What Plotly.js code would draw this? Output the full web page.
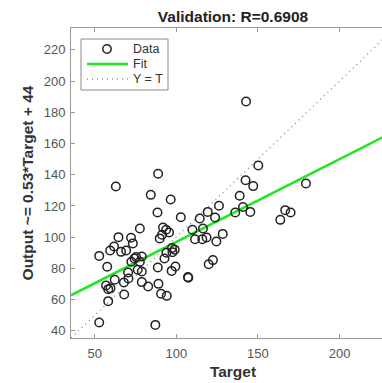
<!DOCTYPE html>
<html><head><meta charset="utf-8">
<script src="https://cdn.plot.ly/plotly-3.0.1.min.js"></script>
<style>html,body{margin:0;padding:0;overflow:hidden;background:#fff;width:382px;height:383px}#chart{width:400px;height:383px}</style>
</head><body><div id="chart"></div>
<script>
// Data
const targetVals = [52.7,87.1,52.7,57.6,56.9,58.2,58.2,59.4,61.8,62.9,62.2,64.5,66.1,68.0,67.8,69.2,70.6,70.4,72.2,73.3,72.4,74.3,76.3,77.6,77.6,78.8,78.8,78.8,82.7,84.3,88.8,88.4,88.6,89.0,90.6,94.1,89.8,91.8,91.2,93.7,95.5,92.7,93.9,96.5,97.3,97.6,97.1,99.4,102.7,107.1,109.8,111.4,114.3,115.9,116.3,118.5,119.2,119.8,122.4,123.7,124.5,126.1,128.4,136.1,138.8,140.8,142.4,142.7,145.3,147.1,150.2,163.7,166.7,170.0,179.4,59.6,75.3,107.3,99.0];
const outputVals = [45.3,43.8,88.0,81.0,69.0,66.7,59.0,91.5,94.0,132.5,72.7,100.0,90.6,63.3,71.0,91.5,73.5,77.4,99.6,96.0,84.2,86.3,79.1,84.2,105.6,87.6,78.0,71.2,68.4,127.1,140.6,115.8,80.6,70.1,63.7,62.4,99.2,106.2,101.5,104.7,103.0,86.3,90.0,124.1,93.0,90.4,78.4,81.2,112.8,74.4,104.7,98.7,112.0,98.7,105.6,99.8,116.2,82.7,85.3,112.6,97.2,120.1,102.1,115.8,126.5,119.3,136.5,186.9,116.2,132.7,145.9,111.1,117.3,115.8,134.4,67.2,87.3,74.0,92.0];
const fitX = [35.4, 234];
const fitY = [62.8, 168.0];
const identX = [35.4, 234];
const identY = [35.4, 234];
const xTicks = [50,100,150,200];
const yTicks = [40,60,80,100,120,140,160,180,200,220];
const axisRange = [35.4, 234];
const legendLabels = ['Data', 'Fit', 'Y = T'];

const FONT = 'Liberation Sans, Arial, sans-serif';
const fitColor = '#22e622';
const identColor = '#8f8f8f';
const markColor = '#222';

const traces = [
  {x: identX, y: identY, mode: 'lines', name: legendLabels[2],
   line: {color: identColor, width: 1.4, dash: '1px,4px'}},
  {x: fitX, y: fitY, mode: 'lines', name: legendLabels[1],
   line: {color: fitColor, width: 2.6}},
  {x: targetVals, y: outputVals, mode: 'markers', name: legendLabels[0],
   marker: {symbol: 'circle-open', size: 8.5, color: markColor, line: {width: 1.5, color: markColor}}}
];

const axisCommon = {
  range: axisRange, showgrid: false, zeroline: false, showline: true,
  linecolor: '#9a9a9a', linewidth: 1, mirror: 'ticks',
  ticks: 'inside', ticklen: 4, tickcolor: '#9a9a9a', tickwidth: 1,
  tickfont: {family: FONT, size: 13, color: '#555'}
};

// legend box geometry in paper coordinates
const W = 324, H = 310;
const px = v => (v - 71) / W;
const py = v => (338 - v) / H;
const rowY = [49, 64, 79];

const shapes = [
  {type: 'rect', xref: 'paper', yref: 'paper', x0: px(81), x1: px(168), y0: py(90), y1: py(39),
   fillcolor: '#fff', line: {color: '#8a8a8a', width: 1}, layer: 'above'},
  {type: 'circle', xref: 'paper', yref: 'paper', xsizemode: 'pixel', ysizemode: 'pixel',
   xanchor: px(107), yanchor: py(rowY[0]), x0: -4.2, x1: 4.2, y0: -4.2, y1: 4.2,
   line: {color: markColor, width: 1.5}, layer: 'above'},
  {type: 'line', xref: 'paper', yref: 'paper', x0: px(87), x1: px(128), y0: py(rowY[1]), y1: py(rowY[1]),
   line: {color: fitColor, width: 2.6}, layer: 'above'},
  {type: 'line', xref: 'paper', yref: 'paper', x0: px(87), x1: px(128), y0: py(rowY[2]), y1: py(rowY[2]),
   line: {color: identColor, width: 1.4, dash: '1px,4px'}, layer: 'above'}
];
const annotations = legendLabels.map((t, i) => ({
  text: t, xref: 'paper', yref: 'paper', x: px(131), y: py(rowY[i]), xanchor: 'left', yanchor: 'middle',
  showarrow: false, font: {family: FONT, size: 12.5, color: '#333'}
}));

const layout = {
  width: 400, height: 383,
  margin: {l: 71, r: 5, t: 28, b: 45},
  paper_bgcolor: '#fff', plot_bgcolor: '#fff',
  showlegend: false,
  title: {text: '<b>Validation: R=0.6908</b>', x: 0.5825, xanchor: 'center', y: 0.958, yanchor: 'middle',
    font: {family: FONT, size: 15.5, color: '#222'}},
  xaxis: Object.assign({}, axisCommon, {tickvals: xTicks, ticklabelstandoff: 3,
    title: {text: '<b>Target</b>', standoff: 6, font: {family: FONT, size: 15.5, color: '#333'}}}),
  yaxis: Object.assign({}, axisCommon, {tickvals: yTicks, ticklabelstandoff: 2,
    title: {text: '<b>Output ~= 0.53*Target + 44</b>', standoff: 6, font: {family: FONT, size: 15.5, color: '#333'}}}),
  shapes: shapes,
  annotations: annotations
};

Plotly.newPlot('chart', traces, layout, {displayModeBar: false, staticPlot: true});
</script>
</body></html>
